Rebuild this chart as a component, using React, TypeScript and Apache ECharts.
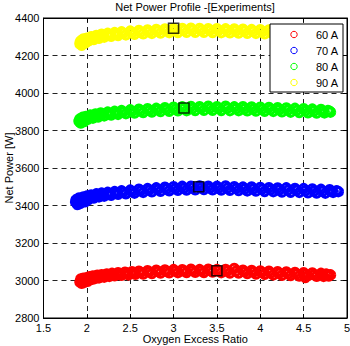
import React, { useEffect, useRef } from "react";
import * as echarts from "echarts";

// Measured net power vs. oxygen excess ratio for four stack currents
const currents = ["60 A", "70 A", "80 A", "90 A"];
const colors = ["#ff0000", "#0000ff", "#00ff00", "#ffff00"];

const xTicks = [1.5, 2, 2.5, 3, 3.5, 4, 4.5, 5];
const yTicks = [2800, 3000, 3200, 3400, 3600, 3800, 4000, 4200, 4400];

const points60A: number[][] = [
  [1.92, 2992], [1.93, 3008], [1.94, 2985], [1.95, 3000], [1.96, 3012], [1.97, 2990], [1.98, 3004],
  [2.0, 3015], [2.01, 2996], [2.03, 3020], [2.05, 3005], [2.07, 3024], [2.09, 3010], [2.12, 3028],
  [2.14, 3014], [2.17, 3031], [2.2, 3018], [2.23, 3035], [2.26, 3022], [2.29, 3038], [2.32, 3025],
  [2.36, 3041], [2.4, 3028], [2.44, 3044], [2.48, 3030], [2.52, 3047], [2.56, 3033], [2.6, 3049],
  [2.65, 3035], [2.7, 3052], [2.75, 3037], [2.8, 3055], [2.85, 3040], [2.9, 3056], [2.95, 3041],
  [3.0, 3058], [3.05, 3042], [3.1, 3057], [3.15, 3043], [3.2, 3060], [3.25, 3044], [3.3, 3058],
  [3.35, 3043], [3.4, 3060], [3.45, 3045], [3.5, 3058], [3.55, 3042], [3.6, 3059], [3.65, 3040],
  [3.7, 3064], [3.75, 3040], [3.8, 3055], [3.85, 3037], [3.9, 3053], [3.95, 3035], [4.0, 3051],
  [4.05, 3033], [4.1, 3049], [4.15, 3030], [4.2, 3047], [4.25, 3028], [4.3, 3045], [4.35, 3027],
  [4.4, 3043], [4.45, 3024], [4.5, 3041], [4.52, 3016], [4.55, 3026], [4.6, 3040], [4.65, 3023],
  [4.7, 3038], [4.73, 3022], [4.76, 3034], [4.79, 3024], [4.81, 3030],
  [1.935, 2998], [1.955, 3006], [1.975, 2996], [1.99, 3010], [2.02, 3012], [2.06, 3016], [2.1, 3020],
  [2.15, 3024], [2.19, 3027], [2.245, 3030], [2.305, 3032], [2.38, 3035], [2.46, 3038], [2.54, 3041],
  [2.62, 3043], [2.72, 3045], [2.82, 3048], [2.92, 3049], [3.02, 3050], [3.12, 3051], [3.22, 3052],
  [3.32, 3051], [3.42, 3053], [3.52, 3051], [3.62, 3050], [3.72, 3050], [3.82, 3047], [3.92, 3045],
  [4.02, 3043], [4.12, 3040], [4.22, 3038], [4.32, 3036], [4.42, 3034], [4.51, 3032], [4.62, 3031],
  [4.71, 3030], [4.78, 3029],
];

const points70A: number[][] = [
  [1.87, 3418], [1.88, 3432], [1.89, 3405], [1.9, 3425], [1.91, 3440], [1.92, 3410], [1.94, 3430],
  [1.96, 3445], [1.98, 3420], [2.0, 3450], [2.02, 3432], [2.05, 3456], [2.08, 3440], [2.11, 3462],
  [2.14, 3446], [2.17, 3466], [2.2, 3450], [2.24, 3470], [2.28, 3455], [2.32, 3474], [2.36, 3460],
  [2.4, 3478], [2.45, 3463], [2.5, 3482], [2.55, 3466], [2.6, 3487], [2.65, 3470], [2.7, 3490],
  [2.75, 3473], [2.8, 3494], [2.85, 3476], [2.9, 3497], [2.95, 3479], [3.0, 3500], [3.05, 3481],
  [3.1, 3502], [3.15, 3483], [3.2, 3503], [3.25, 3484], [3.3, 3504], [3.35, 3485], [3.4, 3503],
  [3.45, 3484], [3.5, 3502], [3.55, 3483], [3.6, 3504], [3.65, 3481], [3.7, 3500], [3.75, 3480],
  [3.8, 3498], [3.85, 3478], [3.9, 3499], [3.95, 3477], [4.0, 3496], [4.05, 3475], [4.1, 3495],
  [4.15, 3474], [4.2, 3493], [4.25, 3472], [4.3, 3494], [4.35, 3471], [4.4, 3491], [4.45, 3470],
  [4.5, 3490], [4.55, 3468], [4.6, 3488], [4.65, 3467], [4.7, 3486], [4.75, 3466], [4.8, 3484],
  [4.84, 3470], [4.88, 3478],
  [1.875, 3425], [1.895, 3415], [1.915, 3428], [1.93, 3420], [1.95, 3436], [1.97, 3432], [1.99, 3438],
  [2.03, 3444], [2.065, 3448], [2.095, 3452], [2.125, 3455], [2.155, 3458], [2.19, 3460], [2.26, 3463],
  [2.34, 3467], [2.42, 3470], [2.52, 3474], [2.62, 3478], [2.72, 3482], [2.82, 3485], [2.92, 3488],
  [3.02, 3490], [3.12, 3492], [3.22, 3494], [3.32, 3494], [3.42, 3493], [3.52, 3493], [3.62, 3492],
  [3.72, 3490], [3.82, 3488], [3.92, 3488], [4.02, 3486], [4.12, 3484], [4.22, 3483], [4.32, 3482],
  [4.42, 3481], [4.52, 3479], [4.62, 3477], [4.72, 3476], [4.82, 3476], [4.9, 3474],
];

const points80A: number[][] = [
  [1.91, 3848], [1.92, 3862], [1.93, 3840], [1.94, 3856], [1.95, 3870], [1.97, 3848], [1.99, 3875],
  [2.01, 3860], [2.04, 3882], [2.07, 3866], [2.1, 3888], [2.13, 3872], [2.16, 3893], [2.2, 3878],
  [2.24, 3898], [2.28, 3883], [2.32, 3902], [2.36, 3886], [2.4, 3906], [2.45, 3890], [2.5, 3910],
  [2.55, 3893], [2.6, 3913], [2.65, 3896], [2.7, 3916], [2.75, 3899], [2.8, 3918], [2.85, 3901],
  [2.9, 3921], [2.95, 3903], [3.0, 3924], [3.05, 3905], [3.1, 3926], [3.15, 3906], [3.2, 3928],
  [3.25, 3907], [3.3, 3927], [3.35, 3908], [3.4, 3929], [3.45, 3908], [3.5, 3927], [3.55, 3907],
  [3.6, 3929], [3.65, 3906], [3.7, 3926], [3.75, 3906], [3.8, 3927], [3.85, 3905], [3.9, 3925],
  [3.95, 3904], [4.0, 3924], [4.05, 3903], [4.1, 3923], [4.15, 3902], [4.2, 3921], [4.25, 3900],
  [4.3, 3920], [4.35, 3898], [4.4, 3918], [4.45, 3896], [4.5, 3916], [4.55, 3895], [4.6, 3914],
  [4.65, 3893], [4.7, 3912], [4.74, 3894], [4.78, 3906], [4.81, 3898],
  [1.915, 3855], [1.935, 3850], [1.955, 3860], [1.98, 3862], [2.0, 3868], [2.025, 3871], [2.055, 3874],
  [2.085, 3877], [2.12, 3880], [2.18, 3886], [2.26, 3890], [2.34, 3894], [2.42, 3898], [2.52, 3901],
  [2.62, 3904], [2.72, 3907], [2.82, 3910], [2.92, 3912], [3.02, 3914], [3.12, 3916], [3.22, 3917],
  [3.32, 3918], [3.42, 3918], [3.52, 3917], [3.62, 3918], [3.72, 3916], [3.82, 3916], [3.92, 3914],
  [4.02, 3913], [4.12, 3912], [4.22, 3911], [4.32, 3909], [4.42, 3907], [4.52, 3905], [4.62, 3904],
  [4.72, 3903], [4.8, 3902],
];

const points90A: number[][] = [
  [1.92, 4262], [1.93, 4278], [1.94, 4255], [1.95, 4272], [1.96, 4288], [1.98, 4266], [2.0, 4292],
  [2.02, 4278], [2.05, 4300], [2.08, 4285], [2.11, 4307], [2.14, 4292], [2.17, 4313], [2.2, 4298],
  [2.24, 4318], [2.28, 4303], [2.32, 4322], [2.36, 4307], [2.4, 4326], [2.45, 4310], [2.5, 4330],
  [2.55, 4313], [2.6, 4333], [2.65, 4316], [2.7, 4336], [2.75, 4318], [2.8, 4339], [2.85, 4320],
  [2.9, 4341], [2.95, 4322], [3.0, 4343], [3.05, 4323], [3.1, 4344], [3.15, 4324], [3.2, 4345],
  [3.25, 4324], [3.3, 4344], [3.35, 4324], [3.4, 4343], [3.45, 4323], [3.5, 4343], [3.55, 4322],
  [3.6, 4342], [3.65, 4321], [3.7, 4341], [3.75, 4320], [3.8, 4340], [3.85, 4319], [3.9, 4338],
  [3.95, 4318], [4.0, 4337], [4.05, 4316], [4.1, 4336], [4.15, 4315], [4.2, 4334], [4.25, 4313],
  [4.3, 4333], [4.35, 4312], [4.4, 4331], [4.45, 4310], [4.5, 4330], [4.55, 4309], [4.6, 4328],
  [4.65, 4307], [4.7, 4326], [4.75, 4306], [4.8, 4322],
  [1.925, 4270], [1.945, 4265], [1.965, 4280], [1.99, 4280], [2.01, 4286], [2.035, 4290], [2.065, 4293],
  [2.095, 4297], [2.125, 4300], [2.19, 4305], [2.26, 4310], [2.34, 4314], [2.42, 4318], [2.52, 4321],
  [2.62, 4324], [2.72, 4327], [2.82, 4330], [2.92, 4331], [3.02, 4333], [3.12, 4334], [3.22, 4335],
  [3.32, 4334], [3.42, 4333], [3.52, 4333], [3.62, 4332], [3.72, 4331], [3.82, 4330], [3.92, 4328],
  [4.02, 4327], [4.12, 4326], [4.22, 4324], [4.32, 4323], [4.42, 4321], [4.52, 4320], [4.62, 4318],
  [4.72, 4316], [4.8, 4314],
];

const seriesPoints = [points60A, points70A, points80A, points90A];

// Maximum net power point of each current
const peakX = [3.5, 3.29, 3.12, 3.0];
const peakY = [3052, 3500, 3920, 4345];

const FONT = "Liberation Sans, Arial, Helvetica, sans-serif";

export default function App() {
  const ref = useRef<HTMLDivElement>(null);

  useEffect(() => {
    if (!ref.current) return;
    const chart = echarts.init(ref.current, undefined, { renderer: "svg" });

    const axisCommon = {
      type: "value" as const,
      axisLine: { show: true, onZero: false, lineStyle: { color: "#000", width: 1 } },
      axisTick: { show: true, inside: true, length: 4, lineStyle: { color: "#000" } },
    };

    const scatterSeries = seriesPoints.map((pts, i) => ({
      type: "scatter",
      name: currents[i],
      data: pts,
      symbol: "circle",
      symbolSize: 8.5,
      itemStyle: { color: "rgba(0,0,0,0)", borderColor: colors[i], borderWidth: 3, opacity: 1 },
      z: 2,
    }));

    const peakSeries = {
      type: "scatter",
      name: "peak",
      data: peakX.map((x, i) => [x, peakY[i]]),
      symbol: "rect",
      symbolSize: 10,
      itemStyle: { color: "rgba(0,0,0,0)", borderColor: "#000", borderWidth: 1.6 },
      z: 5,
    };

    // Legend box drawn in the upper-right corner of the plot, above the data
    const legendX = 270;
    const legendY = 24;
    const legendItems: any[] = [
      {
        type: "rect",
        z: 100,
        shape: { x: legendX, y: legendY, width: 73, height: 68 },
        style: { fill: "#fff", stroke: "#000", lineWidth: 1 },
      },
    ];
    currents.forEach((label, i) => {
      const cy = legendY + 10.5 + i * 16;
      legendItems.push({
        type: "circle",
        z: 101,
        shape: { cx: legendX + 24, cy, r: 3.2 },
        style: { fill: "none", stroke: colors[i], lineWidth: 1 },
      });
      legendItems.push({
        type: "text",
        z: 101,
        x: legendX + 68,
        y: cy,
        style: {
          text: label,
          fill: "#000",
          font: `11px ${FONT}`,
          textAlign: "right",
          textVerticalAlign: "middle",
        },
      });
    });

    chart.setOption({
      animation: false,
      backgroundColor: "#fff",
      title: {
        text: "Net Power Profile -[Experiments]",
        left: 195,
        top: 1,
        textAlign: "center",
        padding: 0,
        textStyle: { fontSize: 11, fontWeight: "normal", fontFamily: FONT, color: "#000" },
      },
      grid: {
        left: 43.5,
        right: 3,
        top: 18,
        bottom: 28,
        outerBoundsMode: "none",
        show: true,
        borderColor: "#000",
        borderWidth: 1,
        backgroundColor: "#fff",
      },
      xAxis: [
        {
          ...axisCommon,
          min: xTicks[0],
          max: xTicks[xTicks.length - 1],
          interval: 0.5,
          position: "bottom",
          name: "Oxygen Excess Ratio",
          nameLocation: "middle",
          nameGap: 15,
          nameMoveOverlap: false,
          nameTextStyle: { fontSize: 11, fontFamily: FONT, color: "#000" },
          axisLabel: {
            color: "#000",
            fontSize: 11,
            fontFamily: FONT,
            margin: 4,
            formatter: (v: number) => String(v),
          },
          splitLine: { show: true, lineStyle: { color: "#222", type: [5, 4], width: 1 } },
        },
        {
          ...axisCommon,
          min: xTicks[0],
          max: xTicks[xTicks.length - 1],
          interval: 0.5,
          position: "top",
          axisLabel: { show: false },
          splitLine: { show: false },
        },
      ],
      yAxis: [
        {
          ...axisCommon,
          min: yTicks[0],
          max: yTicks[yTicks.length - 1],
          interval: 200,
          position: "left",
          name: "Net Power [W]",
          nameLocation: "middle",
          nameGap: 29,
          nameMoveOverlap: false,
          nameTextStyle: { fontSize: 11, fontFamily: FONT, color: "#000" },
          axisLabel: {
            color: "#000",
            fontSize: 11,
            fontFamily: FONT,
            margin: 4,
            formatter: (v: number) => String(v),
          },
          splitLine: { show: true, lineStyle: { color: "#222", type: [5, 4], width: 1 } },
        },
        {
          ...axisCommon,
          min: yTicks[0],
          max: yTicks[yTicks.length - 1],
          interval: 200,
          position: "right",
          axisLabel: { show: false },
          splitLine: { show: false },
        },
      ],
      series: [...scatterSeries, peakSeries],
      graphic: legendItems,
    });

    return () => chart.dispose();
  }, []);

  return (
    <div
      ref={ref}
      style={{ position: "fixed", left: 0, top: 0, width: 350, height: 346 }}
    />
  );
}
